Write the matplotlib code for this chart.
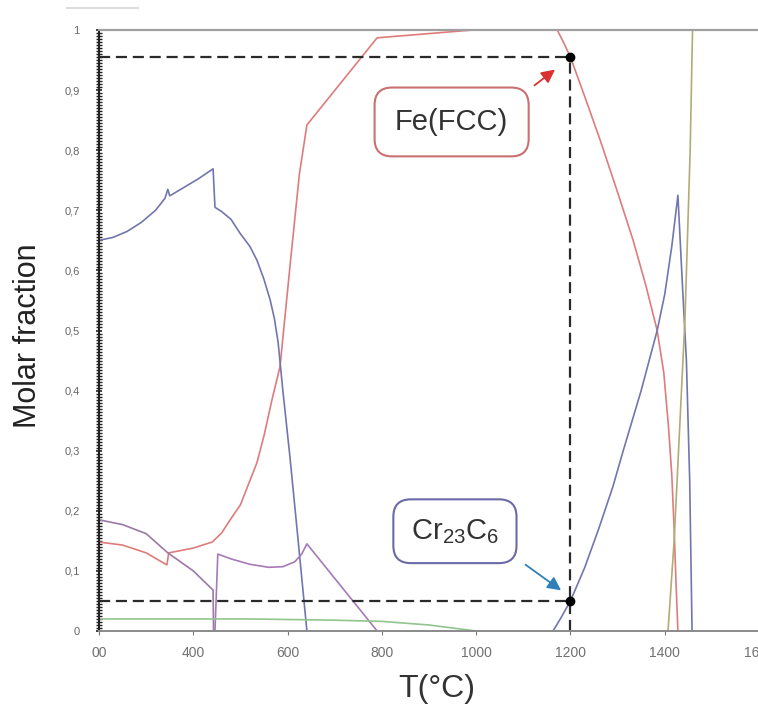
import matplotlib
matplotlib.use("Agg")
import matplotlib.pyplot as plt
from matplotlib.lines import Line2D
from matplotlib.ticker import MultipleLocator

plt.rcParams['font.family'] = ['Liberation Sans', 'DejaVu Sans']
plt.rcParams['mathtext.default'] = 'regular'

# phase fractions (T in degC, molar fraction)
fcc_T = [200, 250, 300, 344, 348, 400, 440, 460, 480, 500, 520, 535, 550, 567, 584, 605, 625,
         641, 790, 993, 1172, 1185, 1200, 1230, 1263, 1300, 1333, 1360, 1384, 1398, 1408,
         1415, 1420, 1424, 1428]
fcc_v = [0.148, 0.143, 0.13, 0.11, 0.13, 0.138, 0.148, 0.163, 0.187, 0.21, 0.25, 0.28, 0.325,
         0.385, 0.44, 0.606, 0.76, 0.842, 0.987, 1.0, 1.0, 0.98, 0.955, 0.89, 0.817, 0.73,
         0.65, 0.575, 0.50, 0.43, 0.34, 0.26, 0.17, 0.08, 0.0]

bcc_T = [200, 230, 260, 290, 320, 340, 346, 350, 380, 410, 442, 446, 460, 480, 499, 520, 535,
         550, 563, 572, 580, 590, 605, 620, 641]
bcc_v = [0.65, 0.655, 0.665, 0.68, 0.70, 0.72, 0.735, 0.724, 0.738, 0.752, 0.769, 0.705,
         0.698, 0.685, 0.662, 0.64, 0.617, 0.585, 0.551, 0.52, 0.48, 0.40, 0.29, 0.17, 0.0]

carb_T = [1163, 1180, 1200, 1230, 1260, 1290, 1312, 1350, 1384, 1400, 1415, 1428, 1436, 1446,
          1453, 1458]
carb_v = [0.0, 0.022, 0.05, 0.105, 0.17, 0.24, 0.30, 0.40, 0.50, 0.56, 0.64, 0.725, 0.60,
          0.45, 0.25, 0.0]

m1_T = [200, 250, 300, 346, 400, 442, 443]
m1_v = [0.185, 0.177, 0.162, 0.13, 0.10, 0.068, 0.0]

m2_T = [446, 452, 480, 520, 560, 590, 615, 630, 641, 790]
m2_v = [0.0, 0.128, 0.12, 0.111, 0.106, 0.107, 0.115, 0.128, 0.145, 0.0]

gr_T = [200, 520, 700, 800, 900, 1000]
gr_v = [0.02, 0.02, 0.018, 0.016, 0.01, 0.0]

liq_T = [1407, 1420, 1426, 1443, 1454, 1459, 1600]
liq_v = [0.0, 0.15, 0.246, 0.52, 0.80, 1.0, 1.0]

x_ticks = [200, 400, 600, 800, 1000, 1200, 1400, 1600]
x_labels = ['00', '400', '600', '800', '1000', '1200', '1400', '1600']
y_ticks = [0, 0.1, 0.2, 0.3, 0.4, 0.5, 0.6, 0.7, 0.8, 0.9, 1.0]
y_labels = ['0', '0,1', '0,2', '0,3', '0,4', '0,5', '0,6', '0,7', '0,8', '0,9', '1']

T_mark = 1200
fcc_mark = 0.955
carb_mark = 0.05

W, H = 758, 715
fig = plt.figure(figsize=(W / 100, H / 100), dpi=100)
ax = fig.add_axes([99 / W, 1 - 631 / H, 660 / W, 601 / H])

ax.plot(fcc_T, fcc_v, color='#de7c7c', lw=1.2)
ax.plot(bcc_T, bcc_v, color='#7276ae', lw=1.2)
ax.plot(carb_T, carb_v, color='#7276ae', lw=1.2)
ax.plot(m1_T, m1_v, color='#9a7aa4', lw=1.2)
ax.plot(m2_T, m2_v, color='#a57ab8', lw=1.2)
ax.plot(gr_T, gr_v, color='#92c48e', lw=1.2)
ax.plot(liq_T, liq_v, color='#b3ab74', lw=1.2, clip_on=False)

# guide lines to the 1200 degC reading
dash = dict(color='#2a2a2a', lw=1.6, dashes=(5, 2.6))
ax.plot([200, T_mark], [fcc_mark, fcc_mark], **dash)
ax.plot([200, T_mark], [carb_mark, carb_mark], **dash)
ax.plot([T_mark, T_mark], [0, fcc_mark], **dash)
ax.plot([T_mark, T_mark], [fcc_mark, carb_mark], 'o', color='black', ms=6)

ax.text(948, 0.847, 'Fe(FCC)', ha='center', va='center', fontsize=21, color='#333333',
        bbox=dict(boxstyle='round,pad=0.7,rounding_size=0.6', fc='white', ec='#c97070', lw=1.5))
ax.text(955, 0.166, r'Cr$_{23}$C$_6$', ha='center', va='center', fontsize=21, color='#333333',
        bbox=dict(boxstyle='round,pad=0.6,rounding_size=0.6', fc='white', ec='#6a6aa8', lw=1.5))
ax.annotate('', xy=(1172, 0.937), xytext=(1119, 0.905),
            arrowprops=dict(arrowstyle='-|>', color='#d93030', lw=1.3, mutation_scale=20))
ax.annotate('', xy=(1185, 0.065), xytext=(1100, 0.113),
            arrowprops=dict(arrowstyle='-|>', color='#2f80b8', lw=1.3, mutation_scale=20))

ax.set_xlim(200, 1600)
ax.set_ylim(0, 1)
ax.set_xticks(x_ticks)
ax.set_xticklabels(x_labels)
ax.set_yticks(y_ticks)
ax.set_yticklabels(y_labels)
ax.yaxis.set_minor_locator(MultipleLocator(0.005))
ax.tick_params(axis='x', labelsize=10, labelcolor='#707070', length=3, color='#777777', pad=8)
ax.tick_params(axis='y', which='major', labelsize=8, labelcolor='#666666', length=4,
               width=1.2, color='#222222', direction='inout', pad=12)
ax.tick_params(axis='y', which='minor', length=4, width=1.0, color='#222222', direction='inout')

ax.spines['right'].set_visible(False)
ax.spines['left'].set_color('#222222')
ax.spines['left'].set_linewidth(1.5)
ax.spines['top'].set_color('#a0a0a0')
ax.spines['top'].set_linewidth(1.6)
ax.spines['bottom'].set_color('#8a8a8a')
ax.spines['bottom'].set_linewidth(1.4)

fig.text(28 / W, 1 - 336 / H, 'Molar fraction', rotation=90, ha='center', va='center',
         fontsize=22, color='#222222')
fig.text(437 / W, 1 - 689 / H, 'T(°C)', ha='center', va='center', fontsize=23, color='#333333')

# faint stray line at the top left of the scan
fig.add_artist(Line2D([67 / W, 138 / W], [1 - 8 / H, 1 - 8 / H], color='#dddddd', lw=1.5))

fig.savefig('out.png', dpi=100)
